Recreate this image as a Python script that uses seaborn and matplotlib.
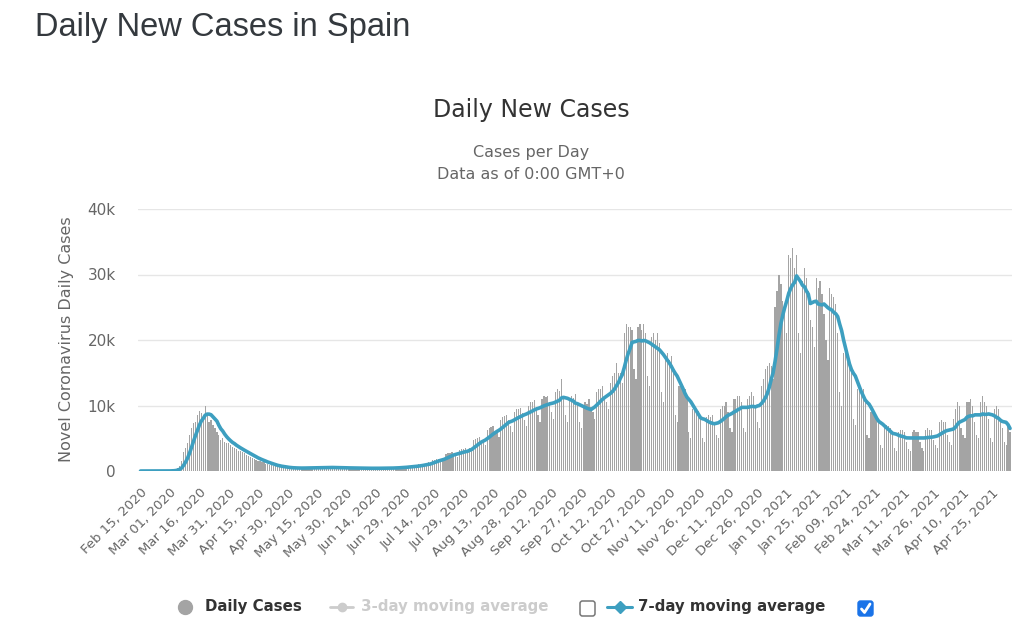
import numpy as np
import pandas as pd
import matplotlib
matplotlib.use("Agg")
import matplotlib.pyplot as plt
import seaborn as sns
from matplotlib.lines import Line2D
from matplotlib.patches import FancyBboxPatch
from matplotlib.transforms import IdentityTransform

# daily new cases, one row per week (Sat..Fri), starting Feb 15, 2020
daily_cases = [
    0, 0, 0, 0, 0, 0, 0,
    0, 0, 0, 0, 2, 5, 10,
    20, 40, 70, 120, 250, 500, 800,
    1500, 2900, 3500, 4300, 5500, 6500, 7300,
    7500, 8500, 9200, 8800, 8300, 10000, 8500,
    7500, 7800, 7000, 6500, 6000, 5500, 4800,
    5000, 4500, 4300, 4200, 4000, 3700, 3500,
    3300, 3100, 3000, 2900, 2800, 2500, 2300,
    2100, 2000, 1900, 1700, 1600, 1500, 1400,
    1300, 1100, 1000, 950, 900, 800, 700,
    650, 600, 550, 600, 500, 500, 450,
    450, 400, 500, 450, 400, 480, 430,
    500, 450, 520, 480, 550, 500, 460,
    600, 520, 480, 600, 550, 580, 520,
    500, 450, 520, 480, 540, 500, 470,
    420, 380, 500, 460, 450, 480, 430,
    400, 350, 450, 420, 430, 460, 400,
    380, 350, 470, 430, 450, 440, 420,
    420, 380, 520, 500, 520, 560, 500,
    550, 500, 700, 650, 720, 700, 680,
    800, 700, 1000, 950, 1050, 1100, 1000,
    1300, 1100, 1700, 1750, 1800, 1900, 1700,
    1900, 1700, 2600, 2700, 2800, 2900, 2600,
    2500, 2200, 3200, 3300, 3400, 3500, 3000,
    3500, 3000, 4800, 4900, 5000, 5200, 4500,
    4600, 4000, 6300, 6500, 6700, 6800, 6000,
    6000, 5200, 7800, 8200, 8400, 8600, 7800,
    6800, 6000, 9000, 9400, 9500, 9600, 8800,
    7800, 6800, 10000, 10500, 10500, 10800, 9800,
    8500, 7500, 11000, 11500, 11300, 11500, 10500,
    9000, 8000, 12000, 12500, 12200, 14000, 11000,
    8500, 7500, 11000, 11500, 11200, 11800, 10500,
    7500, 6500, 10000, 10500, 10300, 11000, 9800,
    9000, 8000, 12000, 12500, 12500, 13000, 11500,
    10500, 9500, 13500, 14500, 15000, 16500, 15000,
    15000, 13500, 21000, 22500, 22000, 22000, 21500,
    15500, 14000, 22000, 22500, 21500, 22500, 21000,
    14500, 13000, 20500, 21000, 20000, 21000, 19500,
    12000, 10500, 17500, 18000, 17000, 17500, 15500,
    8500, 7500, 13000, 13500, 12500, 12500, 11500,
    6000, 5000, 9500, 9800, 9300, 9200, 8000,
    5000, 4500, 8200, 8500, 8300, 8500, 7500,
    5500, 5000, 9500, 10000, 10000, 10500, 9000,
    6500, 6000, 11000, 11000, 11500, 11500, 10500,
    6500, 6000, 11000, 11500, 12000, 11500, 10000,
    7500, 6500, 13000, 14000, 15500, 16000, 16500,
    16000, 14000, 25000, 27500, 30000, 28500, 26000,
    24000, 21000, 33000, 32500, 34000, 31000, 33000,
    21000, 18000, 29000, 31000, 29500, 27500, 23000,
    22000, 19000, 29500, 28000, 29000, 27000, 24000,
    20000, 17000, 28000, 27000, 26500, 25500, 21000,
    12000, 10000, 18000, 18500, 18000, 17000, 15000,
    8000, 7000, 12500, 13000, 12500, 12500, 10500,
    5500, 5000, 9000, 9000, 8500, 8500, 7500,
    4000, 3500, 7000, 7000, 6800, 6500, 5500,
    3500, 3000, 6000, 6200, 6200, 6000, 4500,
    3400, 3000, 6000, 6300, 6000, 6000, 4500,
    3500, 3000, 6200, 6500, 6200, 6300, 4800,
    4000, 3500, 7500, 7800, 7500, 7500, 5500,
    4500, 4000, 8000, 9500, 10500, 10000, 6500,
    5500, 5000, 10500, 10500, 11000, 10000, 7500,
    5500, 5000, 10500, 11500, 10500, 10000, 8000,
    5000, 4500, 9500, 10000, 9500, 8000, 6500,
    4500, 4000, 7000, 6000,
]
start_date = "2020-02-15"

tick_labels = [
    "Feb 15, 2020", "Mar 01, 2020", "Mar 16, 2020", "Mar 31, 2020", "Apr 15, 2020",
    "Apr 30, 2020", "May 15, 2020", "May 30, 2020", "Jun 14, 2020", "Jun 29, 2020",
    "Jul 14, 2020", "Jul 29, 2020", "Aug 13, 2020", "Aug 28, 2020", "Sep 12, 2020",
    "Sep 27, 2020", "Oct 12, 2020", "Oct 27, 2020", "Nov 11, 2020", "Nov 26, 2020",
    "Dec 11, 2020", "Dec 26, 2020", "Jan 10, 2021", "Jan 25, 2021", "Feb 09, 2021",
    "Feb 24, 2021", "Mar 11, 2021", "Mar 26, 2021", "Apr 10, 2021", "Apr 25, 2021",
]
y_ticks = [0, 10000, 20000, 30000, 40000]
y_tick_labels = ["0", "10k", "20k", "30k", "40k"]

df = pd.DataFrame({"cases": daily_cases})
df["date"] = pd.date_range(start_date, periods=len(df))
df["day"] = np.arange(len(df))
df["avg7"] = df["cases"].rolling(7, min_periods=1).mean()

BAR = "#a4a4a4"
TEAL = "#3d9fc0"
DARK = "#333333"
GREY = "#666666"

sns.set_style("white")
plt.rcParams["font.family"] = ["DejaVu Sans"]

W, H = 1024, 632
fig = plt.figure(figsize=(W / 100, H / 100), dpi=100)
ax = fig.add_axes([138 / W, 1 - 471 / H, (1012 - 138) / W, (471 - 209) / H])

sns.barplot(data=df, x="day", y="cases", color=BAR, saturation=1,
            width=0.62, errorbar=None, linewidth=0, ax=ax)
sns.lineplot(data=df, x="day", y="avg7", color=TEAL, linewidth=2.6, ax=ax)

ax.set_xlim(-1.3, len(df) + 0.0)
ax.set_ylim(0, 40000)
ax.set_yticks(y_ticks)
ax.set_yticklabels(y_tick_labels, color=GREY, fontsize=11)
tick_dates = pd.to_datetime(tick_labels, format="%b %d, %Y")
tick_pos = df.loc[df["date"].isin(tick_dates), "day"].tolist()
ax.set_xticks(tick_pos)
ax.set_xticklabels(tick_labels, rotation=45, ha="right", rotation_mode="anchor",
                   color=GREY, fontsize=9.5)
ax.tick_params(axis="x", length=0, pad=11)
ax.tick_params(axis="y", length=0, pad=16)
ax.set_xlabel("")
ax.set_ylabel("")
ax.grid(axis="y", color="#e6e6e6", linewidth=1)
ax.grid(axis="x", visible=False)
ax.set_axisbelow(True)
for s in ax.spines.values():
    s.set_visible(False)


def fx(x):
    return x / W


def fy(y):
    return 1 - y / H


fig.text(fx(35), fy(36), "Daily New Cases in Spain", fontsize=23.5,
         family=["Liberation Sans"], color="#34393e", va="baseline")
fig.text(fx(531), fy(110), "Daily New Cases", fontsize=17, color=DARK,
         ha="center", va="center")
fig.text(fx(531), fy(153), "Cases per Day", fontsize=11.5, color=GREY,
         ha="center", va="center")
fig.text(fx(531), fy(175), "Data as of 0:00 GMT+0", fontsize=11.5, color=GREY,
         ha="center", va="center")
fig.text(fx(66), fy(339), "Novel Coronavirus Daily Cases", fontsize=11.5,
         color=GREY, rotation=90, ha="center", va="center")

# legend row
ly = fy(607)
fig.add_artist(Line2D([fx(185)], [ly], marker="o", markersize=10,
                      color=BAR, linestyle="none", transform=fig.transFigure))
fig.text(fx(205), ly, "Daily Cases", fontsize=10.8, fontweight="bold",
         color=DARK, va="center")
fig.add_artist(Line2D([fx(330), fx(353)], [ly, ly], color="#cccccc", lw=2,
                      transform=fig.transFigure))
fig.add_artist(Line2D([fx(342)], [ly], marker="o", markersize=6, color="#cccccc",
                      linestyle="none", transform=fig.transFigure))
fig.text(fx(361), ly, "3-day moving average", fontsize=10.8, fontweight="bold",
         color="#cccccc", va="center")
fig.add_artist(FancyBboxPatch((580, H - 616), 15, 15,
                              boxstyle="round,pad=0,rounding_size=2.5",
                              facecolor="white", edgecolor="#767676", lw=1.1,
                              transform=IdentityTransform()))
fig.add_artist(Line2D([fx(607), fx(632)], [ly, ly], color=TEAL, lw=2.2,
                      transform=fig.transFigure))
fig.add_artist(Line2D([fx(620)], [ly], marker="D", markersize=6, color=TEAL,
                      linestyle="none", transform=fig.transFigure))
fig.text(fx(638), ly, "7-day moving average", fontsize=10.8, fontweight="bold",
         color=DARK, va="center")
fig.add_artist(FancyBboxPatch((858, H - 616), 15, 15,
                              boxstyle="round,pad=0,rounding_size=2.5",
                              facecolor="#1a73e8", edgecolor="#1a73e8", lw=1,
                              transform=IdentityTransform()))
fig.add_artist(Line2D([861.5, 864.5, 870], [H - 609, H - 612.5, H - 604],
                      color="white", lw=2, solid_capstyle="round",
                      transform=IdentityTransform()))

fig.savefig("out.png", dpi=100, facecolor="white")
